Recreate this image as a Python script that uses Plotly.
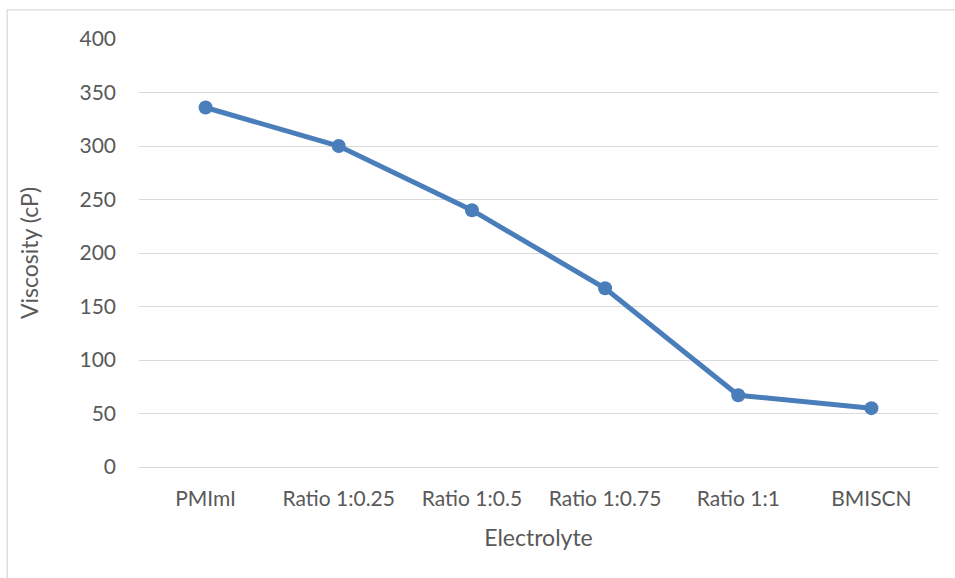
import plotly.graph_objects as go

categories = ["PMImI", "Ratio 1:0.25", "Ratio 1:0.5", "Ratio 1:0.75", "Ratio 1:1", "BMISCN"]
viscosity = [336, 300, 240, 167, 67, 55]
y_ticks = [0, 50, 100, 150, 200, 250, 300, 350, 400]

FONT = "Lato"
TXT = "#595959"

fig = go.Figure(go.Scatter(
    x=categories, y=viscosity, mode="lines+markers",
    line=dict(color="#4a7ebb", width=5),
    marker=dict(color="#4a7ebb", size=14),
    showlegend=False,
))

fig.update_layout(
    width=955, height=578,
    margin=dict(l=139, r=17, t=39, b=111),
    paper_bgcolor="white", plot_bgcolor="white",
    font=dict(family=FONT, color=TXT, size=21),
    xaxis=dict(
        title=dict(text="Electrolyte", font=dict(size=23, color=TXT), standoff=20),
        range=[-0.5, len(categories) - 0.5],
        showgrid=False, showline=False, zeroline=False,
        ticks="", ticklabelstandoff=17,
        tickfont=dict(size=21, color=TXT),
    ),
    yaxis=dict(
        title=dict(text="Viscosity (cP)", font=dict(size=23, color=TXT), standoff=34),
        range=[0, 400], tickvals=y_ticks,
        showgrid=True, gridcolor="#d9d9d9", gridwidth=1.3,
        zeroline=True, zerolinecolor="#d9d9d9", zerolinewidth=1.3,
        showline=False, ticks="",
        ticklabelstandoff=22,
        tickfont=dict(size=21, color=TXT),
    ),
    shapes=[dict(type="rect", xref="paper", yref="paper",
                 x0=-0.165, x1=1.2, y0=-0.4, y1=1.068,
                 line=dict(color="#d9d9d9", width=1.3), layer="below")],
)

fig.write_html("out.html", post_script="document.body.style.margin='0';",
               config={"displayModeBar": False})
